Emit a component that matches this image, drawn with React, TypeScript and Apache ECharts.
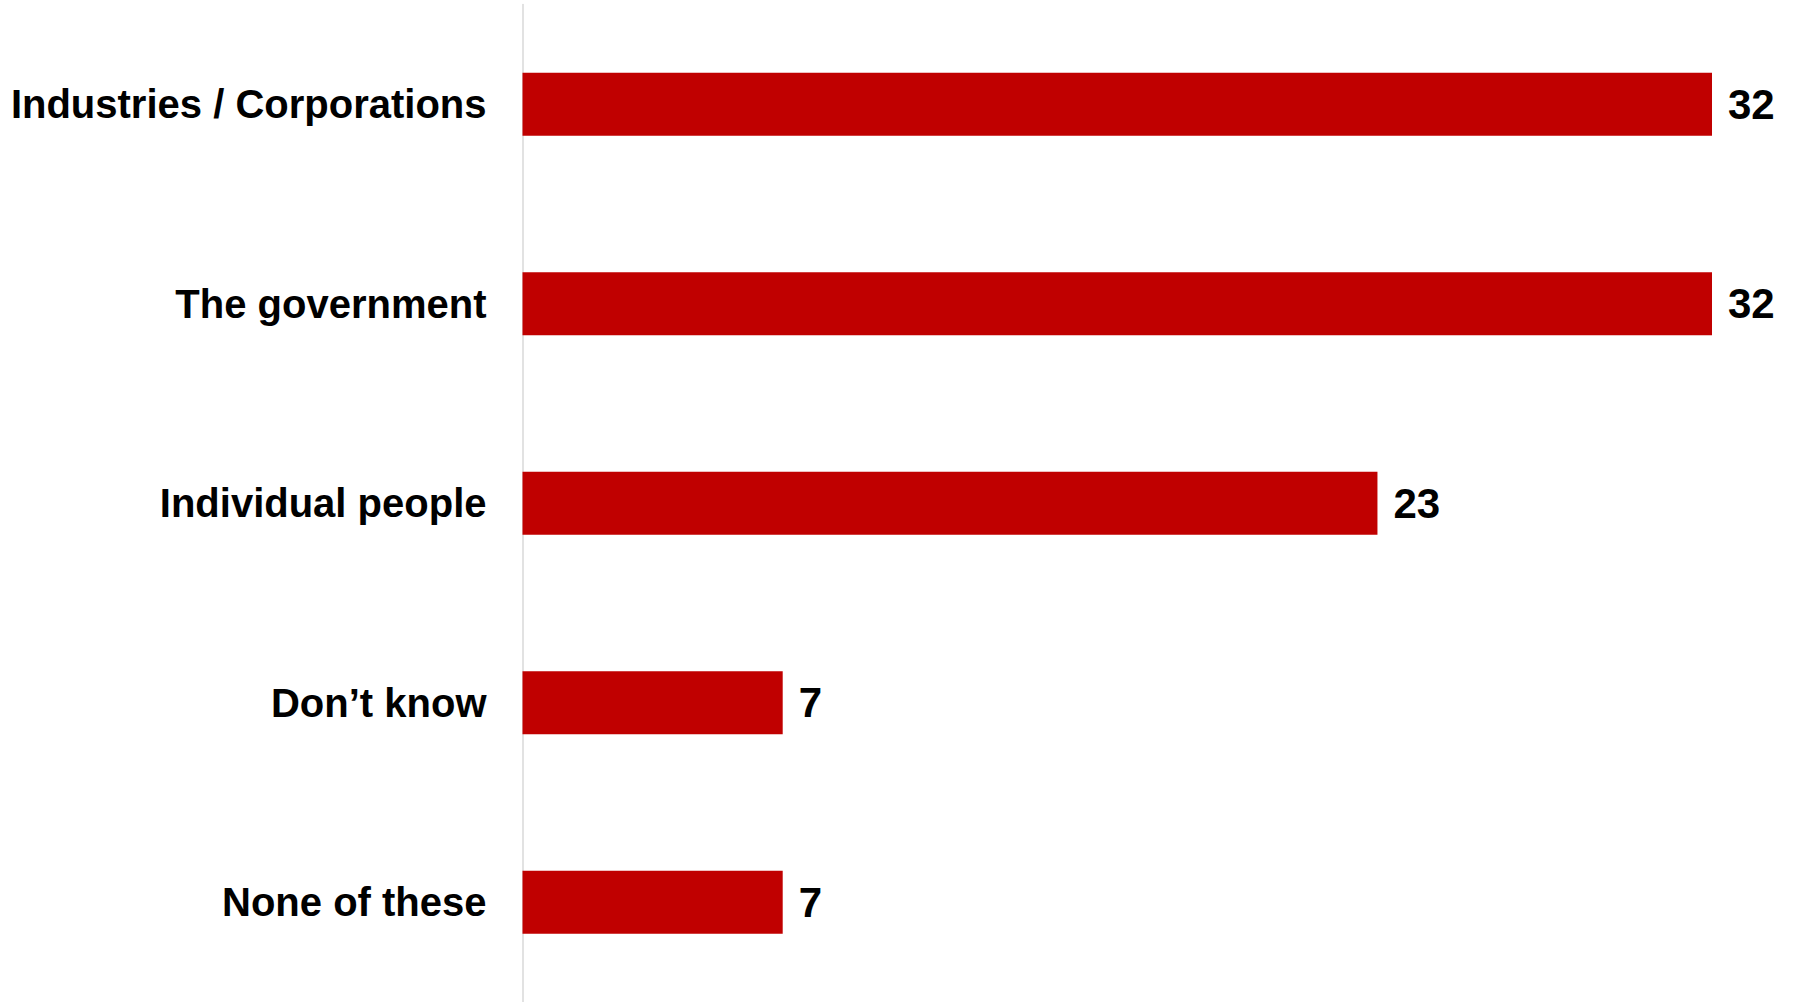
import React, { useEffect, useRef } from "react";
import * as echarts from "echarts";

const categories = [
  "Industries / Corporations",
  "The government",
  "Individual people",
  "Don\u2019t know",
  "None of these",
];
const values = [32, 32, 23, 7, 7];

export default function App() {
  const ref = useRef<HTMLDivElement>(null);
  useEffect(() => {
    if (!ref.current) return;
    const chart = echarts.init(ref.current, undefined, { renderer: "svg" });
    chart.setOption({
      animation: false,
      backgroundColor: "#ffffff",
      textStyle: { fontFamily: "Liberation Sans, Arial, sans-serif" },
      grid: { left: 522.5, right: 81, top: 4.5, height: 1001, containLabel: false },
      xAxis: {
        type: "value",
        min: 0,
        max: 32,
        show: false,
      },
      yAxis: {
        type: "category",
        data: categories,
        inverse: true,
        axisLine: { show: true, lineStyle: { color: "#d9d9d9", width: 1.5 } },
        axisTick: { show: false },
        splitLine: { show: false },
        axisLabel: {
          margin: 36,
          fontSize: 40,
          fontWeight: "bold",
          color: "#000000",
          fontFamily: "Liberation Sans, Arial, sans-serif",
        },
      },
      series: [
        {
          type: "bar",
          data: values,
          barWidth: 63,
          itemStyle: { color: "#C00000" },
          label: {
            show: true,
            position: "right",
            distance: 16,
            fontSize: 42,
            fontWeight: "bold",
            color: "#000000",
            fontFamily: "Liberation Sans, Arial, sans-serif",
          },
        },
      ],
    });
    return () => chart.dispose();
  }, []);
  return (
    <div
      ref={ref}
      style={{ position: "fixed", left: 0, top: 0, width: 1793, height: 1002 }}
    />
  );
}
